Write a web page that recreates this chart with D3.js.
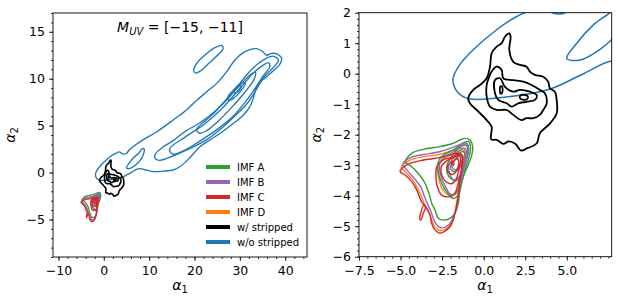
<!DOCTYPE html>
<html>
<head>
<meta charset="utf-8">
<script src="https://cdn.jsdelivr.net/npm/d3@7"></script>
<style>
body { margin: 0; background: #fff; }
text { font-family: "DejaVu Sans", sans-serif; fill: #000; }
</style>
</head>
<body>
<svg id="chart" width="618" height="303"></svg>
<script>
// contour rings, in (alpha1, alpha2) data units

// w/o stripped (blue)
const blueOuter = [[-1.85,-0.2],[-1.5,0.25],[-0.6,0.8],[0.8,1.45],[1.9,1.85],[2.7,2.05],[3.4,2.2],[4.2,1.98],[4.9,2.0],[5.6,2.4],[6.6,2.8],[8.7,3.5],[11.7,4.35],[15.3,5.6],[18.3,6.7],[20.5,7.7],[22.7,8.6],[24.9,9.5],[27.1,10.75],[28.6,11.8],[30.5,12.7],[32.2,13.1],[33.7,13.2],[35,12.9],[35.9,12.5],[37,12.7],[38.3,12.6],[39.2,12.2],[38.9,11.6],[37.5,10.9],[35.9,10.2],[34.3,9.6],[33.7,9.15],[33.0,8.0],[32.2,7.0],[30.5,6.0],[28.6,5.25],[26,4.3],[23.5,3.5],[21.2,2.75],[19,1.6],[17,0.7],[15.3,0.27],[13,0.15],[10.9,0.1],[9,0.3],[7.7,0.42],[6,0.0],[4,-0.5],[1.6,-0.75],[-0.9,-0.82],[-1.55,-0.62]];
const blueIsland = [[19.8,10.9],[20.6,11.7],[22.5,12.6],[24.5,13.3],[26.0,13.55],[26.3,13.2],[25.3,12.6],[23.3,11.7],[21.2,10.8],[20.2,10.6]];
const blueBlob = [[5.0,0.5],[5.6,1.0],[6.6,1.6],[7.7,2.05],[8.5,2.55],[8.9,2.5],[8.7,1.9],[8.0,1.3],[7.0,0.8],[5.8,0.45]];
const blueL2 = [[11.3,1.9],[13,2.7],[15.3,3.4],[18,4.4],[21.2,5.3],[24.9,6.7],[27.8,8.1],[30.0,9.5],[32.2,10.8],[34,11.6],[35.9,12.2],[37.3,12.4],[38.5,12.0],[37.4,11.2],[35.2,10.1],[33.2,8.5],[31.5,7.3],[29.3,6.2],[26.4,4.9],[22.7,3.5],[18.3,2.4],[15.5,1.8],[13.9,1.5],[12.3,1.3],[11.4,1.45]];
const blueL3 = [[14.5,2.5],[18,3.8],[22,5.1],[26,6.8],[29,8.4],[31.3,9.7],[33.2,10.7],[35,11.4],[36.3,11.7],[36.6,11.3],[35,10.2],[33,8.7],[31,7.4],[28.5,6.0],[25,4.6],[21,3.3],[17.5,2.3],[15.2,1.95]];
const blueL4 = [[20.5,4.6],[24,6.2],[27,7.8],[30,9.3],[32.2,10.4],[33.4,10.7],[33.2,10.0],[31,8.5],[28.5,7.1],[25.5,5.6],[22.5,4.4],[21,4.2]];
const blueL5 = [[27.3,8.0],[29,9.0],[30.5,9.6],[31.2,9.5],[30.2,8.7],[28.6,7.9],[27.6,7.7]];
const blueL6 = [[28.6,8.6],[29.6,9.1],[30.3,9.2],[29.8,8.7],[29.0,8.5]];

// w/ stripped (black)
const blackL1 = [[1.54,1.32],[1.62,1.21],[1.54,0.78],[1.78,0.39],[2.18,0.29],[2.58,0.23],[2.78,0.07],[3.08,-0.04],[3.58,-0.1],[3.88,-0.26],[3.98,-0.48],[4.28,-0.59],[4.39,-0.86],[4.39,-1.3],[3.99,-1.63],[3.38,-1.95],[3.19,-2.28],[2.6,-2.45],[2.25,-2.52],[1.9,-2.3],[1.5,-2.22],[1.18,-2.3],[0.78,-2.17],[0.45,-2.15],[0.48,-1.74],[0.18,-1.52],[-0.42,-1.19],[-0.83,-0.97],[-0.93,-0.81],[-0.63,-0.53],[-0.22,-0.37],[0.18,-0.15],[0.38,0.23],[0.48,0.67],[0.78,0.89],[1.08,1.0],[1.28,1.21]];
const blackL2 = [[0.48,0.07],[0.78,0.23],[1.08,0.12],[1.18,-0.15],[1.78,-0.21],[2.38,-0.26],[2.88,-0.37],[3.38,-0.53],[3.68,-0.64],[3.79,-0.97],[3.58,-1.19],[3.38,-1.35],[2.98,-1.46],[2.58,-1.46],[2.28,-1.52],[1.78,-1.35],[1.38,-1.19],[0.78,-1.19],[0.38,-1.08],[0.18,-0.75],[0.18,-0.37],[0.38,-0.04]];
const blackL3 = [[0.68,-0.21],[0.98,-0.15],[1.28,-0.43],[1.78,-0.59],[2.18,-0.53],[2.78,-0.59],[3.19,-0.7],[3.08,-0.86],[2.58,-0.92],[2.08,-0.97],[1.68,-1.08],[1.38,-0.97],[0.88,-0.86],[0.68,-0.64]];
const blackPeak1 = [[1.0,-0.42],[1.1,-0.42],[1.14,-0.53],[1.1,-0.64],[1.0,-0.64],[0.97,-0.53]];
const blackPeak2 = [[2.2,-0.72],[2.45,-0.69],[2.66,-0.75],[2.6,-0.84],[2.35,-0.85],[2.18,-0.8]];

// IMF A (green)
const greenL1 = [[-4.73,-2.89],[-4.33,-2.61],[-3.63,-2.48],[-2.63,-2.39],[-1.83,-2.28],[-1.43,-2.17],[-1.13,-2.12],[-0.83,-2.17],[-0.66,-2.39],[-0.72,-2.67],[-0.93,-2.99],[-1.23,-3.38],[-1.43,-3.81],[-1.53,-4.25],[-1.73,-4.58],[-2.03,-4.74],[-2.43,-4.8],[-2.73,-4.74],[-2.93,-4.47],[-3.13,-4.25],[-3.23,-4.03],[-3.33,-3.87],[-3.53,-3.59],[-3.93,-3.27],[-4.33,-3.05],[-4.63,-2.94]];
const greenL2 = [[-2.73,-2.89],[-2.43,-2.67],[-1.83,-2.5],[-1.23,-2.28],[-0.93,-2.22],[-0.79,-2.44],[-0.93,-2.83],[-1.13,-3.16],[-1.33,-3.59],[-1.53,-3.98],[-1.83,-4.09],[-2.23,-3.87],[-2.53,-3.59],[-2.73,-3.21]];
const greenL3 = [[-2.2,-3.0],[-1.9,-2.7],[-1.4,-2.4],[-1.05,-2.35],[-0.95,-2.55],[-1.15,-2.95],[-1.35,-3.3],[-1.6,-3.5],[-1.95,-3.45],[-2.2,-3.25]];
const greenL4 = [[-2.0,-3.05],[-1.7,-2.8],[-1.3,-2.55],[-1.15,-2.6],[-1.3,-2.9],[-1.55,-3.15],[-1.85,-3.2]];

// IMF B (purple)
const purpleL1 = [[-4.85,-2.95],[-4.4,-2.75],[-3.6,-2.65],[-2.6,-2.55],[-1.8,-2.4],[-1.35,-2.3],[-1.1,-2.25],[-0.95,-2.35],[-0.95,-2.6],[-1.15,-3.0],[-1.4,-3.5],[-1.55,-4.1],[-1.75,-4.6],[-2.1,-4.95],[-2.6,-5.05],[-2.95,-4.85],[-3.15,-4.55],[-3.35,-4.3],[-3.55,-4.05],[-3.75,-3.75],[-4.15,-3.45],[-4.55,-3.2]];
const purpleL2 = [[-2.65,-2.95],[-2.35,-2.72],[-1.8,-2.55],[-1.3,-2.35],[-1.0,-2.3],[-0.9,-2.5],[-1.05,-2.85],[-1.25,-3.25],[-1.45,-3.7],[-1.7,-3.95],[-2.0,-3.95],[-2.3,-3.7],[-2.55,-3.4]];
const purpleL3 = [[-2.1,-3.0],[-1.8,-2.75],[-1.35,-2.48],[-1.1,-2.45],[-1.05,-2.65],[-1.25,-3.0],[-1.45,-3.35],[-1.7,-3.5],[-1.95,-3.4]];
const purpleL4 = [[-1.95,-3.0],[-1.65,-2.8],[-1.35,-2.65],[-1.25,-2.75],[-1.45,-3.0],[-1.7,-3.15]];

// IMF C (red)
const redL1 = [[-5.03,-3.21],[-4.63,-2.99],[-3.63,-2.83],[-2.83,-2.77],[-2.03,-2.67],[-1.63,-2.61],[-1.33,-2.67],[-1.33,-3.05],[-1.43,-3.49],[-1.53,-4.03],[-1.73,-4.58],[-2.03,-5.02],[-2.63,-5.23],[-2.93,-5.12],[-3.13,-4.91],[-3.23,-4.64],[-3.43,-4.41],[-3.73,-4.2],[-4.03,-3.81],[-4.33,-3.54],[-4.73,-3.32]];
const redHook = [[-3.6,-4.3],[-3.75,-4.5],[-3.85,-4.75],[-3.78,-4.8],[-3.62,-4.55],[-3.5,-4.4]];
const redL2 = [[-2.83,-3.05],[-2.43,-2.83],[-1.83,-2.72],[-1.43,-2.61],[-1.27,-2.77],[-1.33,-3.16],[-1.53,-3.59],[-1.73,-3.92],[-2.03,-4.03],[-2.53,-3.98],[-2.79,-3.7],[-2.87,-3.32]];
const redL3 = [[-2.55,-3.05],[-2.2,-2.85],[-1.7,-2.72],[-1.45,-2.68],[-1.4,-2.85],[-1.5,-3.15],[-1.65,-3.45],[-1.9,-3.6],[-2.25,-3.55],[-2.5,-3.35]];
const redL4 = [[-2.2,-3.05],[-1.9,-2.88],[-1.6,-2.78],[-1.5,-2.9],[-1.6,-3.15],[-1.85,-3.3],[-2.1,-3.25]];
const redPeak = [[-1.9,-2.92],[-1.82,-2.9],[-1.8,-2.98],[-1.88,-3.0]];

// IMF D (orange), mostly hidden under the others
const orangeL1 = [[-4.95,-3.05],[-4.5,-2.85],[-3.6,-2.72],[-2.7,-2.65],[-1.9,-2.52],[-1.45,-2.45],[-1.2,-2.45],[-1.1,-2.7],[-1.3,-3.2],[-1.48,-3.7],[-1.65,-4.3],[-1.85,-4.8],[-2.3,-5.1],[-2.75,-5.12],[-3.05,-4.9],[-3.25,-4.6],[-3.5,-4.35],[-3.85,-3.9],[-4.25,-3.5],[-4.65,-3.25]];
const orangeL2 = [[-2.75,-3.0],[-2.4,-2.78],[-1.8,-2.62],[-1.35,-2.5],[-1.15,-2.55],[-1.2,-2.9],[-1.4,-3.4],[-1.6,-3.85],[-1.9,-4.0],[-2.4,-3.85],[-2.68,-3.5]];

const legendLabels = ["IMF A", "IMF B", "IMF C", "IMF D", "w/ stripped", "w/o stripped"];
const legendColors = ["#2ca02c", "#9467bd", "#d62728", "#ff7f0e", "#000000", "#1f77b4"];

const leftXTicks = [-10, 0, 10, 20, 30, 40];
const leftYTicks = [-5, 0, 5, 10, 15];
const rightXTicks = [-7.5, -5.0, -2.5, 0.0, 2.5, 5.0];
const rightYTicks = [-6, -5, -4, -3, -2, -1, 0, 1, 2];

const layers = [
  { color: "#1f77b4", width: 1.5, rings: [blueOuter, blueIsland, blueBlob, blueL2, blueL3, blueL4, blueL5, blueL6] },
  { color: "#000000", width: 1.8, rings: [blackL1, blackL2, blackL3, blackPeak1, blackPeak2] },
  { color: "#ff7f0e", width: 1.3, rings: [orangeL1, orangeL2] },
  { color: "#2ca02c", width: 1.4, rings: [greenL1, greenL2, greenL3, greenL4] },
  { color: "#9467bd", width: 1.4, rings: [purpleL1, purpleL2, purpleL3, purpleL4] },
  { color: "#d62728", width: 1.4, rings: [redL1, redHook, redL2, redL3, redL4, redPeak] }
];

const minus = s => String(s).replace("-", "\u2212");

const panels = [
  { left: 53, right: 307, top: 13, bottom: 257, xDom: [-11.2, 44.8], yDom: [-9, 17],
    xTicks: leftXTicks, yTicks: leftYTicks, xMinor: d3.range(-10, 45, 2), yMinor: d3.range(-9, 18, 1),
    xFmt: d => minus(d), yFmt: d => minus(d), xLab: 180, yLab: 10 },
  { left: 359, right: 611.7, top: 12.7, bottom: 256.7, xDom: [-7.5, 7.7], yDom: [-6, 2],
    xTicks: rightXTicks, yTicks: rightYTicks, xMinor: d3.range(-7.5, 7.71, 0.5), yMinor: d3.range(-6, 2.01, 0.2),
    xFmt: d => minus(d3.format(".1f")(d)), yFmt: d => minus(d), xLab: 485, yLab: 316 }
];

const svg = d3.select("#chart");
const defs = svg.append("defs");

panels.forEach((p, i) => {
  const x = d3.scaleLinear().domain(p.xDom).range([p.left, p.right]);
  const y = d3.scaleLinear().domain(p.yDom).range([p.bottom, p.top]);

  defs.append("clipPath").attr("id", "clip" + i)
    .append("rect")
    .attr("x", p.left).attr("y", p.top)
    .attr("width", p.right - p.left).attr("height", p.bottom - p.top);

  const line = d3.line()
    .x(d => x(d[0]))
    .y(d => y(d[1]))
    .curve(d3.curveCatmullRomClosed.alpha(0.5));

  const plot = svg.append("g").attr("clip-path", `url(#clip${i})`);
  layers.forEach(layer => {
    layer.rings.forEach(ring => {
      plot.append("path")
        .attr("d", line(ring))
        .attr("fill", "none")
        .attr("stroke", layer.color)
        .attr("stroke-width", i === 0 ? layer.width * 0.9 : layer.width)
        .attr("stroke-linejoin", "round");
    });
  });

  // minor ticks
  const xMinorAxis = d3.axisBottom(x).tickValues(p.xMinor).tickSize(2).tickFormat("");
  const yMinorAxis = d3.axisLeft(y).tickValues(p.yMinor).tickSize(2).tickFormat("");
  svg.append("g").attr("transform", `translate(0,${p.bottom})`).call(xMinorAxis);
  svg.append("g").attr("transform", `translate(${p.left},0)`).call(yMinorAxis);

  // major ticks
  const xAxis = d3.axisBottom(x).tickValues(p.xTicks).tickSize(4).tickPadding(5).tickFormat(p.xFmt);
  const yAxis = d3.axisLeft(y).tickValues(p.yTicks).tickSize(4).tickPadding(4).tickFormat(p.yFmt);
  svg.append("g").attr("transform", `translate(0,${p.bottom})`).call(xAxis);
  svg.append("g").attr("transform", `translate(${p.left},0)`).call(yAxis);

  svg.selectAll(".domain").remove();
  svg.selectAll(".tick line").attr("stroke", "#000").attr("stroke-width", 0.8);
  svg.selectAll(".tick text").attr("font-size", "12.5px").attr("font-family", "DejaVu Sans").attr("fill", "#000");

  // frame
  svg.append("rect")
    .attr("x", p.left).attr("y", p.top)
    .attr("width", p.right - p.left).attr("height", p.bottom - p.top)
    .attr("fill", "none").attr("stroke", "#000").attr("stroke-width", 0.9);

  // axis labels
  const xl = svg.append("text").attr("x", p.xLab).attr("y", 290).attr("text-anchor", "middle").attr("font-size", "14px");
  xl.append("tspan").attr("font-style", "italic").text("\u03b1");
  xl.append("tspan").attr("font-size", "10px").attr("dy", 3).text("1");

  const yl = svg.append("text")
    .attr("transform", `translate(${p.yLab + 5},${(p.top + p.bottom) / 2}) rotate(-90)`)
    .attr("text-anchor", "middle").attr("font-size", "14px");
  yl.append("tspan").attr("font-style", "italic").text("\u03b1");
  yl.append("tspan").attr("font-size", "10px").attr("dy", 3).text("2");
});

// title of left panel
const title = svg.append("text").attr("x", 180).attr("y", 32).attr("text-anchor", "middle").attr("font-size", "14px");
title.append("tspan").attr("font-style", "italic").text("M");
title.append("tspan").attr("font-style", "italic").attr("font-size", "10px").attr("dy", 3).text("UV");
title.append("tspan").attr("dy", -3).text(" = [\u221215, \u221211]");

// legend
const legend = svg.append("g").attr("transform", "translate(206,167)");
legendLabels.forEach((lab, i) => {
  const row = legend.append("g").attr("transform", `translate(0,${i * 15})`);
  row.append("line").attr("x1", 0).attr("x2", 24).attr("y1", 0).attr("y2", 0)
    .attr("stroke", legendColors[i]).attr("stroke-width", 4);
  row.append("text").attr("x", 31).attr("y", 0).attr("dy", "0.35em")
    .attr("font-size", "10px").text(lab);
});
</script>
</body>
</html>
